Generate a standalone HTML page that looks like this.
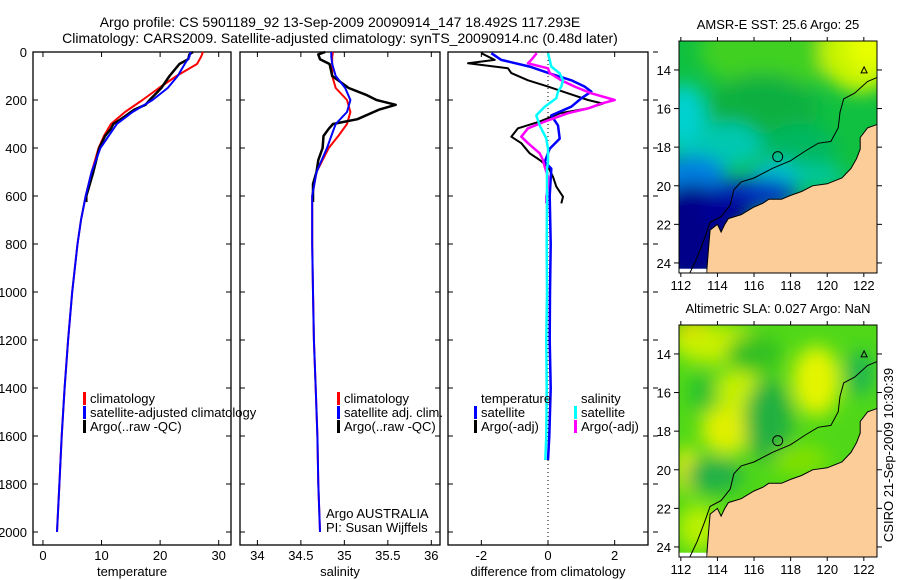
<!DOCTYPE html>
<html><head><meta charset="utf-8">
<style>
html,body{margin:0;padding:0;background:#fff;}
svg{display:block;font-family:"Liberation Sans",sans-serif;}
</style></head>
<body>
<svg id="fig" width="900" height="580" viewBox="0 0 900 580" xmlns="http://www.w3.org/2000/svg">
<defs>
<filter id="blur1" x="-50%" y="-50%" width="200%" height="200%"><feGaussianBlur stdDeviation="9"/></filter>
<clipPath id="clipTop"><rect x="679" y="41" width="198" height="232"/></clipPath>
<clipPath id="clipBot"><rect x="679" y="325" width="198" height="232"/></clipPath>
</defs>
<text x="340" y="27" font-size="14" text-anchor="middle">Argo profile: CS 5901189_92 13-Sep-2009 20090914_147 18.492S 117.293E</text>
<text x="340" y="43" font-size="14" text-anchor="middle">Climatology: CARS2009. Satellite-adjusted climatology: synTS_20090914.nc (0.48d later)</text>
<g id="plots"></g>
<g id="maps"></g>
<text transform="translate(893,455) rotate(-90)" font-size="13" text-anchor="middle">CSIRO 21-Sep-2009 10:30:39</text>
</svg>
<script>
// ---- data ----
const climDepths = [0,20,50,100,150,200,250,300,350,400,500,600,700,800,1000,1200,1400,1600,1800,2000];
const climTemp = [27.3,27.0,26.3,22.8,19.8,17.0,14.0,11.6,10.4,9.5,8.3,7.3,6.5,5.9,5.0,4.3,3.7,3.2,2.8,2.4];
const satTemp = [25.2,25.0,24.2,23.0,21.3,18.7,15.3,12.6,11.2,9.8,8.3,7.3,6.5,5.9,5.0,4.3,3.7,3.2,2.8,2.4];
const climSal = [34.87,34.86,34.86,34.86,34.90,35.03,35.07,35.03,34.93,34.82,34.68,34.63,34.63,34.63,34.64,34.65,34.67,34.69,34.70,34.72];
const satSal = [34.85,34.85,34.86,34.90,35.01,35.07,35.03,34.90,34.85,34.80,34.68,34.63,34.63,34.63,34.64,34.65,34.67,34.69,34.70,34.72];
const argoDepths = [0,10,30,50,100,150,180,200,220,240,280,300,320,350,400,450,500,550,600,625];
const argoTemp = [25.6,25.0,24.8,23.3,21.6,20.2,19.0,18.2,17.5,15.6,13.3,12.0,11.6,10.6,9.6,9.1,8.6,8.0,7.4,7.4];
const argoSal = [34.78,34.70,34.72,34.83,34.86,35.05,35.26,35.37,35.59,35.40,35.15,34.87,34.82,34.76,34.75,34.70,34.68,34.64,34.64,34.64];
const diffDepths = [5,33,47,68,88,118,144,172,200,215,235,255,290,318,353,380,422,450,478,520,561,603,631];
const diffTempArgo = [-2.0,-1.6,-2.4,-1.2,-1.1,-0.6,0.0,0.6,1.2,1.65,1.2,0.36,-0.25,-0.9,-1.1,-0.8,-0.55,-0.25,0.0,0.15,0.25,0.45,0.4];
const diffSalArgo = [-0.34,-0.5,-0.6,0.0,0.05,0.4,0.8,1.3,2.0,1.6,1.2,0.6,-0.1,-0.6,-0.8,-0.6,-0.25,-0.15,-0.1,0.0,0.0,-0.05,-0.05];
const satDiffDepths = [5,33,61,89,118,144,165,193,228,264,306,361,403,458,486,600,800,1000,1200,1400,1600,1700];
const diffTempSat = [-1.7,-1.4,-0.55,0.05,0.7,1.1,1.3,1.0,0.7,0.1,0.3,0.35,0.05,-0.1,0.1,0.05,0.08,0.06,0.05,0.08,0.04,0.0];
const diffSalSat = [0.0,0.05,0.1,0.35,0.45,0.4,0.3,0.25,-0.1,-0.35,-0.25,-0.05,0.0,0.0,-0.03,-0.03,-0.04,-0.03,-0.05,-0.04,-0.05,-0.08];
const depthTicks = [0,200,400,600,800,1000,1200,1400,1600,1800,2000];
const tempTicks = [0,10,20,30];
const salTicks = [34,34.5,35,35.5,36];
const diffTicks = [-2,0,2];
const latTicks = [14,16,18,20,22,24];
const lonTicks = [112,114,116,118,120,122];

const NS = "http://www.w3.org/2000/svg";
function mk(tag, attrs, parent){ const e=document.createElementNS(NS,tag); for(const k in attrs) e.setAttribute(k,attrs[k]); parent.appendChild(e); return e; }
const plots = document.getElementById('plots');
const maps = document.getElementById('maps');

const TOP=52, BOT=545;
function yDepth(d){ return TOP + d*0.24; }
const panels = [
  {name:'temperature', x0:33, x1:231, vmin:-1.7, vmax:32.1, ticks:tempTicks, label:'temperature', labels:true},
  {name:'salinity', x0:240, x1:440, vmin:33.8, vmax:36.1, ticks:salTicks, label:'salinity', labels:false},
  {name:'difference', x0:448, x1:648, vmin:-3, vmax:3, ticks:diffTicks, label:'difference from climatology', labels:false}
];
function xScale(p){ return v => p.x0 + (v-p.vmin)/(p.vmax-p.vmin)*(p.x1-p.x0); }

panels.forEach(p=>{
  const g = mk('g',{},plots);
  
  
  const fr = mk('rect',{x:p.x0,y:TOP,width:p.x1-p.x0,height:BOT-TOP,fill:'none',stroke:'#000','stroke-width':1.3},g);
  
  
  const xs = xScale(p);
  p.ticks.forEach(t=>{
    const x=xs(t);
    mk('line',{x1:x,x2:x,y1:BOT,y2:BOT-5,stroke:'#000'},g);
    mk('line',{x1:x,x2:x,y1:TOP,y2:TOP+5,stroke:'#000'},g);
    const tl = mk('text',{x:x,y:560,'font-size':13,'text-anchor':'middle'},g);
    tl.textContent = t;
    
    
  });
  depthTicks.forEach(d=>{
    const y=yDepth(d);
    mk('line',{x1:p.x0,x2:p.x0+5,y1:y,y2:y,stroke:'#000'},g);
    mk('line',{x1:p.x1,x2:p.x1-5,y1:y,y2:y,stroke:'#000'},g);
    if(p.labels){
      const tl = mk('text',{x:27,y:y+5,'font-size':13,'text-anchor':'end'},g);
      tl.textContent = d;
      
      
    }
    if(p.name==='difference'){
      mk('line',{x1:653,x2:658,y1:y,y2:y,stroke:'#000'},g);
    }
  });
  const al = mk('text',{x:(p.x0+p.x1)/2,y:576,'font-size':13,'text-anchor':'middle'},g);
  al.textContent = p.label;
  
  
  p.xs = xs; p.g = g;
});

function line(p, depths, vals, color, w, name){
  const pts = depths.map((d,i)=> p.xs(vals[i]).toFixed(1)+','+yDepth(d).toFixed(1)).join(' ');
  const l = mk('polyline',{points:pts,fill:'none',stroke:color,'stroke-width':w,'stroke-linejoin':'round'},p.g);
  
  
}
const [pT,pS,pD] = panels;
line(pT, climDepths, climTemp, '#ff0000', 2, 'temp-climatology-line');
line(pT, argoDepths, argoTemp, '#000000', 2.5, 'temp-argo-line');
line(pT, climDepths, satTemp, '#0000ff', 2, 'temp-satellite-line');
line(pS, climDepths, climSal, '#ff0000', 2, 'sal-climatology-line');
line(pS, argoDepths, argoSal, '#000000', 2.5, 'sal-argo-line');
line(pS, climDepths, satSal, '#0000ff', 2, 'sal-satellite-line');
const zl = mk('line',{x1:pD.xs(0),x2:pD.xs(0),y1:TOP,y2:BOT,stroke:'#000','stroke-dasharray':'1,3'},pD.g);


line(pD, diffDepths, diffTempArgo, '#000000', 2, 'diff-temp-argo-line');
line(pD, satDiffDepths, diffTempSat, '#0000ff', 2.5, 'diff-temp-satellite-line');
line(pD, diffDepths, diffSalArgo, '#ff00ff', 2.5, 'diff-sal-argo-line');
line(pD, satDiffDepths, diffSalSat, '#00ffff', 2.5, 'diff-sal-satellite-line');

function legend(g, x, y, color, text, name){
  const lg = mk('g',{},g);
  
  
  if(color) mk('rect',{x:x,y:y-11,width:3,height:13,fill:color},lg);
  const t = mk('text',{x:x+7,y:y,'font-size':13},lg);
  t.textContent = text;
}
legend(pT.g, 83, 403, '#ff0000', 'climatology', 'legend-entry-climatology');
legend(pT.g, 83, 417, '#0000ff', 'satellite-adjusted climatology', 'legend-entry-satellite');
legend(pT.g, 83, 431, '#000000', 'Argo(..raw -QC)', 'legend-entry-argo');
legend(pS.g, 337, 403, '#ff0000', 'climatology', 'legend-entry-climatology');
legend(pS.g, 337, 417, '#0000ff', 'satellite adj. clim.', 'legend-entry-satellite');
legend(pS.g, 337, 431, '#000000', 'Argo(..raw -QC)', 'legend-entry-argo');
legend(pD.g, 474, 403, null, 'temperature', 'legend-heading-temperature');
legend(pD.g, 474, 417, '#0000ff', 'satellite', 'legend-entry-temp-satellite');
legend(pD.g, 474, 431, '#000000', 'Argo(-adj)', 'legend-entry-temp-argo');
legend(pD.g, 574, 403, null, 'salinity', 'legend-heading-salinity');
legend(pD.g, 574, 417, '#00ffff', 'satellite', 'legend-entry-sal-satellite');
legend(pD.g, 574, 431, '#ff00ff', 'Argo(-adj)', 'legend-entry-sal-argo');
const a1 = mk('text',{x:326,y:518,'font-size':13},pS.g); a1.textContent='Argo AUSTRALIA';
 
const a2 = mk('text',{x:326,y:532,'font-size':13},pS.g); a2.textContent='PI: Susan Wijffels';
 

// ---- maps ----
const coast = [[113.4,24.6],[113.5,23.4],[113.6,22.3],[114.0,22.0],[114.2,22.4],[114.4,22.0],[114.6,21.7],[115.3,21.5],[116.0,21.1],[116.5,20.9],[116.8,20.7],[117.5,20.7],[118.0,20.5],[118.6,20.3],[119.2,20.0],[120.0,19.9],[120.8,19.6],[121.3,19.1],[121.6,18.6],[121.8,18.1],[121.8,17.5],[122.2,17.0],[122.8,16.8],[122.8,24.6]];
const isobath = [[112.5,24.5],[112.9,23.7],[113.3,22.7],[113.6,21.9],[114.2,21.6],[114.7,21.0],[114.9,20.2],[115.3,19.8],[116.0,19.6],[117.0,19.1],[118.0,18.7],[118.8,18.2],[119.5,17.8],[120.2,17.7],[120.6,17.0],[120.7,16.2],[120.9,15.5],[121.5,15.2],[122.2,14.6],[122.7,14.4]];
const sstBlobs = [[117,13,4,2,'#40d020'],[121.8,13,2.2,2.2,'#c8f400'],[122.3,12.8,1.2,1.2,'#e8ff00'],[116.5,16,3,1.8,'#10b040'],[112.2,16.5,1.2,1.8,'#00d0d0'],[114.5,17.9,2,1.2,'#00c8b0'],[118.5,18,2,1.2,'#00b860'],[112.5,19.4,2.0,1.0,'#0080e0'],[117.3,19.5,1.5,0.8,'#00c0d0'],[116,20.4,2.5,0.8,'#0030c0'],[112.6,22.5,2.4,2.6,'#000088'],[114.5,21.2,1.5,0.8,'#000098'],[119.5,19.5,1.5,0.6,'#00c8a0']];
const slaBlobs = [[112.8,13.1,1.2,0.9,'#ffc000'],[114,13.5,2.5,1,'#c8f000'],[119.4,15.4,1.3,1.8,'#e4f400'],[114.5,17.9,1.4,1.3,'#e0f000'],[115.2,15.8,1.3,1,'#c8f000'],[112.3,20,0.6,1.2,'#f0f000'],[113.2,16,0.7,1,'#20c030'],[116.8,17.5,1.3,2.2,'#20b040'],[113.8,20.3,1.6,0.9,'#20b048'],[121.8,15,0.8,1.2,'#20b850'],[113,23,1.2,1.2,'#b8f000'],[118.5,19.5,1.6,0.8,'#80e000'],[116,14,1.5,1,'#30c020']];

function mx(lon){ return 679 + (lon-111.9)*18.3; }
function mapPanel(top, clipId, base, blobs, title, name){
  const g = mk('g',{},maps);
  
  
  const my = lat => top + (lat-12.5)*19.3;
  const cg = mk('g',{'clip-path':'url(#'+clipId+')'},g);
  mk('rect',{x:679,y:top,width:198,height:232,fill:base},cg);
  const bg = mk('g',{filter:'url(#blur1)'},cg);
  blobs.forEach(b=>{
    mk('ellipse',{cx:mx(b[0]),cy:my(b[1]),rx:b[2]*18.3,ry:b[3]*19.3,fill:b[4]},bg);
  });
  const land = mk('polygon',{points:coast.map(c=>mx(c[0]).toFixed(1)+','+my(c[1]).toFixed(1)).join(' '),fill:'#fccc99',stroke:'#000','stroke-width':1},cg);
  
  
  mk('rect',{x:679,y:my(24.3),width:mx(113.4)-679,height:12,fill:'#fff'},cg);
  const iso = mk('polyline',{points:isobath.map(c=>mx(c[0]).toFixed(1)+','+my(c[1]).toFixed(1)).join(' '),fill:'none',stroke:'#000','stroke-width':1},cg);
  
  
  const fl = mk('circle',{cx:mx(117.293),cy:my(18.492),r:5,fill:'none',stroke:'#000','stroke-width':1},cg);
  
  
  mk('path',{d:`M${mx(121.85)},${my(14.15)} l3,-6 l3,6 z`,fill:'none',stroke:'#000'},cg);
  mk('rect',{x:679,y:top,width:198,height:232,fill:'none',stroke:'#000','stroke-width':1},g);
  latTicks.forEach(l=>{
    const y=my(l);
    mk('line',{x1:674,x2:679,y1:y,y2:y,stroke:'#000'},g);
    mk('line',{x1:877,x2:882,y1:y,y2:y,stroke:'#000'},g);
    const t = mk('text',{x:671,y:y+5,'font-size':13,'text-anchor':'end'},g); t.textContent=l;
     
  });
  lonTicks.forEach(l=>{
    const x=mx(l);
    mk('line',{x1:x,x2:x,y1:top-4,y2:top,stroke:'#000'},g);
    mk('line',{x1:x,x2:x,y1:top+232,y2:top+236,stroke:'#000'},g);
    const t = mk('text',{x:x,y:top+249,'font-size':13,'text-anchor':'middle'},g); t.textContent=l;
     
  });
  const tt = mk('text',{x:778,y:top-12,'font-size':13,'text-anchor':'middle'},g); tt.textContent=title;
   
}
mapPanel(41,'clipTop','#10c040',sstBlobs,'AMSR-E SST: 25.6 Argo: 25','sst-map');
mapPanel(325,'clipBot','#50d818',slaBlobs,'Altimetric SLA: 0.027 Argo: NaN','sla-map');
</script>
</body></html>
